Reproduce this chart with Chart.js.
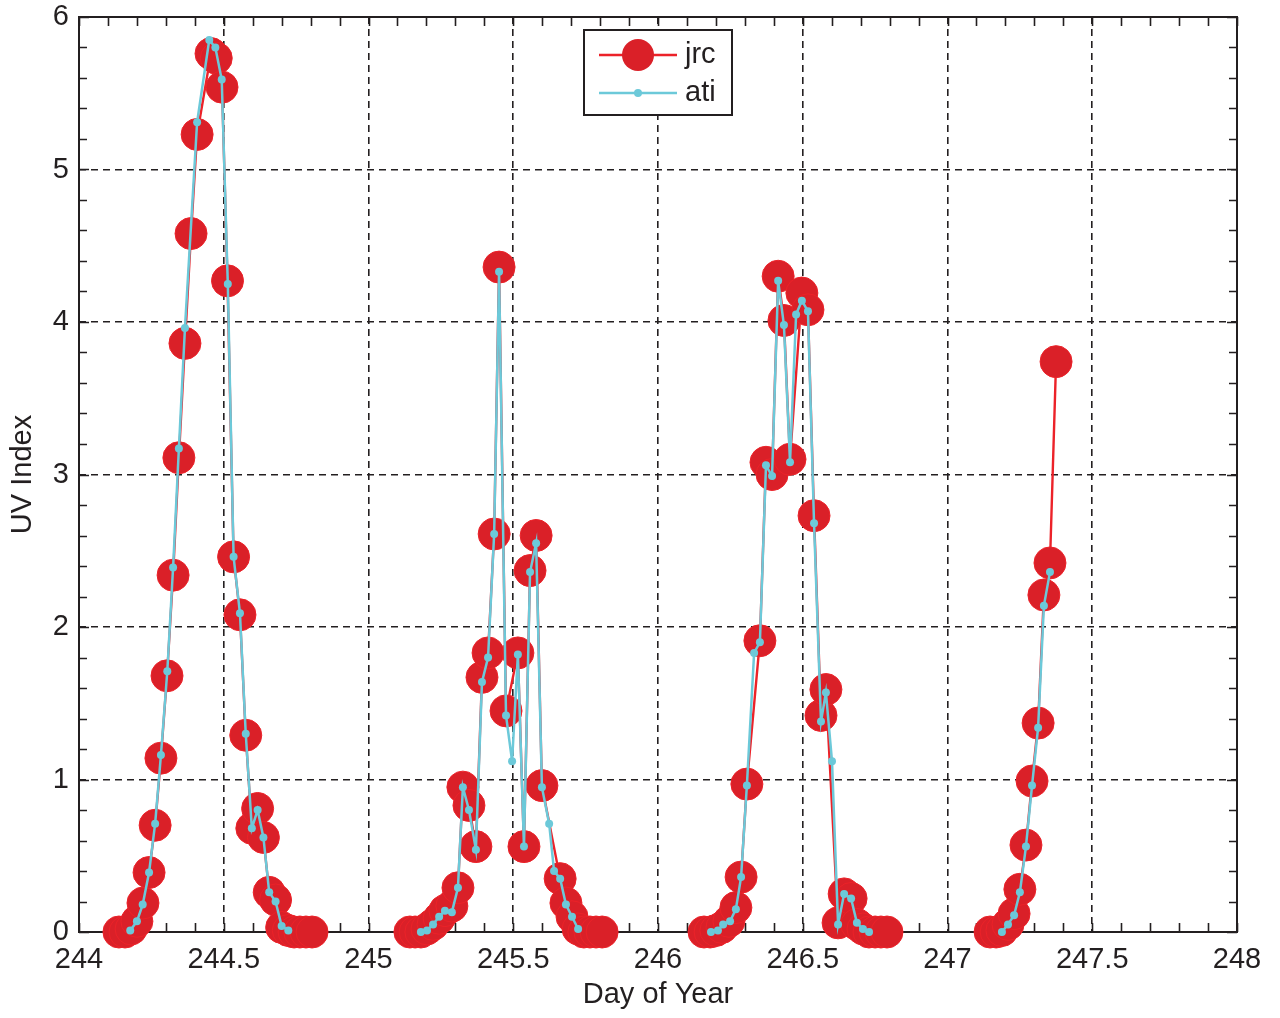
<!DOCTYPE html>
<html><head><meta charset="utf-8">
<script src="https://cdn.jsdelivr.net/npm/chart.js@4.4.1/dist/chart.umd.min.js"></script>
<style>html,body{margin:0;padding:0;background:#fff;}#wrap{width:1280px;height:1018px;position:relative;}</style>
</head><body><div id="wrap"><canvas id="c" width="1280" height="1018"></canvas></div>
<script>
// ---- data (day of year, UV index); null = night gap ----
const jrcDay = [
 244.138,244.159,244.180,244.200,244.221,244.242,244.263,244.283,244.304,244.325,244.345,244.366,244.387,244.408,244.456,244.474,244.494,244.513,244.534,244.556,244.576,244.597,244.617,244.637,244.657,244.679,244.700,244.723,244.743,244.763,244.784,244.805,
 244.95,
 245.143,245.161,245.181,245.202,245.223,245.244,245.264,245.288,245.309,245.326,245.347,245.371,245.392,245.413,245.434,245.451,245.475,245.516,245.537,245.558,245.579,245.599,245.662,245.682,245.703,245.724,245.744,245.765,245.786,245.807,
 245.95,
 246.159,246.180,246.200,246.221,246.245,246.269,246.287,246.307,246.352,246.373,246.394,246.415,246.435,246.456,246.497,246.518,246.539,246.563,246.580,246.622,246.643,246.667,246.687,246.708,246.729,246.750,246.770,246.791,
 246.95,
 247.147,247.168,247.188,247.209,247.230,247.250,247.271,247.292,247.313,247.333,247.354,247.375
];
const jrcUV = [
 0.00,0.00,0.02,0.07,0.19,0.39,0.70,1.14,1.68,2.34,3.11,3.86,4.58,5.23,5.76,5.73,5.54,4.27,2.46,2.08,1.29,0.68,0.81,0.62,0.26,0.21,0.03,0.01,0.00,0.00,0.00,0.00,
 null,
 0.00,0.00,0.00,0.02,0.05,0.09,0.14,0.17,0.29,0.95,0.83,0.56,1.67,1.83,2.61,4.36,1.45,1.83,0.56,2.37,2.60,0.96,0.35,0.19,0.10,0.02,0.00,0.00,0.00,0.00,
 null,
 0.00,0.00,0.01,0.03,0.07,0.16,0.36,0.97,1.91,3.08,3.00,4.30,4.01,3.10,4.19,4.08,2.73,1.42,1.59,0.06,0.25,0.22,0.05,0.02,0.00,0.00,0.00,0.00,
 null,
 0.00,0.00,0.01,0.05,0.12,0.28,0.57,0.99,1.37,2.21,2.42,3.74
];
const atiDay = [
 244.177,244.200,244.220,244.242,244.263,244.283,244.305,244.325,244.345,244.366,244.408,244.450,244.471,244.493,244.514,244.534,244.556,244.576,244.597,244.617,244.637,244.657,244.679,244.700,244.723,
 244.95,
 245.181,245.202,245.223,245.244,245.264,245.288,245.309,245.326,245.347,245.371,245.392,245.413,245.434,245.451,245.475,245.496,245.516,245.537,245.558,245.579,245.599,245.624,245.641,245.662,245.682,245.703,245.724,
 245.95,
 246.183,246.207,246.225,246.249,246.269,246.287,246.307,246.332,246.352,246.373,246.394,246.415,246.435,246.456,246.477,246.497,246.518,246.539,246.563,246.580,246.601,246.622,246.643,246.667,246.687,246.708,246.729,
 246.95,
 247.188,247.209,247.230,247.250,247.271,247.292,247.313,247.333,247.354
];
const atiUV = [
 0.01,0.07,0.18,0.39,0.71,1.16,1.71,2.39,3.17,3.96,5.31,5.85,5.80,5.59,4.25,2.46,2.09,1.30,0.68,0.80,0.62,0.26,0.20,0.04,0.01,
 null,
 0.00,0.01,0.05,0.10,0.14,0.13,0.29,0.95,0.80,0.54,1.64,1.80,2.61,4.33,1.42,1.12,1.82,0.56,2.36,2.55,0.95,0.71,0.40,0.35,0.18,0.10,0.02,
 null,
 0.00,0.01,0.05,0.07,0.15,0.36,0.96,1.83,1.90,3.06,2.99,4.27,3.98,3.08,4.05,4.14,4.07,2.68,1.38,1.57,1.12,0.05,0.25,0.22,0.06,0.02,0.00,
 null,
 0.00,0.05,0.11,0.26,0.56,0.96,1.34,2.14,2.36
];
const seriesNames = ['jrc','ati'];
const xTickLabels = ['244','244.5','245','245.5','246','246.5','247','247.5','248'];
const yTickLabels = ['0','1','2','3','4','5','6'];

const FONT = '"Liberation Sans", Arial, sans-serif';
const INK = '#231f20';
const RED = '#da2028', REDLINE = '#ec2229', CYAN = '#6cc9d9';

const toXY = (xs, ys) => xs.map((x, i) => ({x: x, y: ys[i]}));

const frame = {
  id: 'frame',
  beforeDatasetsDraw(chart) {
    const {ctx, chartArea: a, scales: {x, y}} = chart;
    ctx.save();
    ctx.strokeStyle = INK; ctx.lineWidth = 1.6;
    for (let i = 0; i <= 40; i++) {
      const px = Math.round(x.getPixelForValue(244 + i * 0.1)) + 0.5;
      ctx.beginPath(); ctx.moveTo(px, a.bottom); ctx.lineTo(px, a.bottom - 9);
      ctx.moveTo(px, a.top); ctx.lineTo(px, a.top + 9); ctx.stroke();
    }
    for (let i = 0; i <= 30; i++) {
      const py = Math.round(y.getPixelForValue(i * 0.2)) + 0.5;
      const L = (i % 5 === 0) ? 10 : 8;
      ctx.beginPath(); ctx.moveTo(a.left, py); ctx.lineTo(a.left + L, py);
      ctx.moveTo(a.right, py); ctx.lineTo(a.right - L, py); ctx.stroke();
    }
    ctx.lineWidth = 2;
    ctx.strokeRect(a.left, a.top, a.right - a.left, a.bottom - a.top);
    ctx.restore();
  }
};

const legendBox = {
  id: 'legendBox',
  afterDraw(chart) {
    const {ctx, chartArea: a} = chart;
    const w = 148, h = 85;
    const bx = Math.round((a.left + a.right) / 2 - w / 2), by = a.top + 13;
    ctx.save();
    ctx.fillStyle = '#fff'; ctx.fillRect(bx, by, w, h);
    ctx.strokeStyle = INK; ctx.lineWidth = 2; ctx.strokeRect(bx, by, w, h);
    const rows = [by + 25, by + 63];
    const ds = chart.data.datasets;
    rows.forEach((ry, i) => {
      const d = ds[i === 0 ? 1 : 0];
      ctx.strokeStyle = d.borderColor; ctx.lineWidth = d.borderWidth;
      ctx.beginPath(); ctx.moveTo(bx + 15, ry); ctx.lineTo(bx + 93, ry); ctx.stroke();
      ctx.beginPath(); ctx.arc(bx + 54, ry, d.pointRadius, 0, Math.PI * 2);
      ctx.fillStyle = d.pointBackgroundColor; ctx.fill();
      ctx.fillStyle = INK; ctx.font = '29px ' + FONT; ctx.textBaseline = 'middle'; ctx.textAlign = 'left';
      ctx.fillText(d.label, bx + 101, ry);
    });
    ctx.restore();
  }
};

new Chart(document.getElementById('c'), {
  type: 'line',
  data: {
    datasets: [
      {label: seriesNames[1], data: toXY(atiDay, atiUV), borderColor: CYAN, borderWidth: 2.5,
       pointRadius: 4, pointBackgroundColor: CYAN, pointBorderColor: CYAN, pointBorderWidth: 0,
       spanGaps: false, clip: false, order: 1, tension: 0},
      {label: seriesNames[0], data: toXY(jrcDay, jrcUV), borderColor: REDLINE, borderWidth: 2.4,
       pointRadius: 16, pointBackgroundColor: RED, pointBorderColor: REDLINE, pointBorderWidth: 1,
       spanGaps: false, clip: false, order: 2, tension: 0}
    ]
  },
  options: {
    responsive: false, devicePixelRatio: 1, animation: false,
    layout: {padding: {top: 17, right: 43, left: 0, bottom: 0}},
    plugins: {legend: {display: false}, tooltip: {enabled: false}},
    scales: {
      x: {
        type: 'linear', min: 244, max: 248,
        afterBuildTicks: s => { s.ticks = xTickLabels.map(v => ({value: parseFloat(v)})); },
        ticks: {callback: (v, i) => xTickLabels[i], font: {family: FONT, size: 29}, color: INK, padding: 11, maxRotation: 0},
        grid: {color: INK, lineWidth: 1.6, drawTicks: false},
        border: {display: false, dash: [7, 5]},
        title: {display: true, text: 'Day of Year', font: {family: FONT, size: 29}, color: INK, padding: {top: 0, bottom: 6}},
        afterFit: s => { s.height = 86; s.paddingLeft = 0; s.paddingRight = 0; }
      },
      y: {
        min: 0, max: 6,
        afterBuildTicks: s => { s.ticks = yTickLabels.map(v => ({value: parseFloat(v)})); },
        ticks: {callback: (v, i) => yTickLabels[i], font: {family: FONT, size: 29}, color: INK, padding: 10},
        grid: {color: INK, lineWidth: 1.6, drawTicks: false},
        border: {display: false, dash: [7, 5]},
        title: {display: true, text: 'UV Index', font: {family: FONT, size: 29}, color: INK, padding: {top: 6, bottom: 0}},
        afterFit: s => { s.width = 79; s.paddingTop = 0; s.paddingBottom = 0; }
      }
    }
  },
  plugins: [frame, legendBox]
});
</script></body></html>
